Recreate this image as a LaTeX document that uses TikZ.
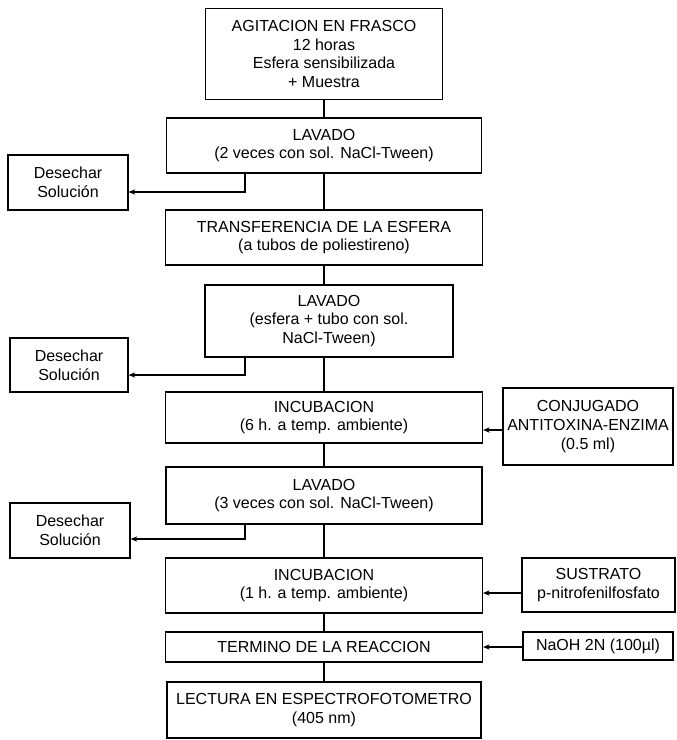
\documentclass[tikz,border=0pt]{standalone}
\usepackage{fontspec}
\setmainfont{Liberation Sans}
\usetikzlibrary{arrows.meta}
\newdimen\px \px=0.75pt
\tikzset{
  paso/.style={draw,align=center,inner sep=0pt},
  flecha/.style={-{Stealth[length=5pt,width=4pt]}}
}
\begin{document}
\begin{tikzpicture}[x=0.75pt,y=-0.75pt,line width=0.9pt,
  every node/.style={font=\fontsize{12}{14}\selectfont}]
\useasboundingbox (0,0) rectangle (677,740);
% etapas
\node[paso,minimum width=237\px,minimum height=91\px] (agit) at (324,54) {AGITACION EN FRASCO\\12 horas\\Esfera sensibilizada\\+ Muestra};
\node[paso,minimum width=315\px,minimum height=55\px] (lav1) at (324,145.5) {LAVADO\\(2 veces con sol. NaCl-Tween)};
\node[paso,minimum width=317\px,minimum height=55\px] (trans) at (324,237.5) {TRANSFERENCIA DE LA ESFERA\\(a tubos de poliestireno)};
\node[paso,minimum width=248\px,minimum height=72\px] (lav2) at (329,321) {LAVADO\\(esfera + tubo con sol.\\NaCl-Tween)};
\node[paso,minimum width=317\px,minimum height=51\px] (inc1) at (324,417.5) {INCUBACION\\(6 h. a temp. ambiente)};
\node[paso,minimum width=316\px,minimum height=57\px] (lav3) at (324,495.5) {LAVADO\\(3 veces con sol. NaCl-Tween)};
\node[paso,minimum width=317\px,minimum height=55\px] (inc2) at (324,585.5) {INCUBACION\\(1 h. a temp. ambiente)};
\node[paso,minimum width=317\px,minimum height=30\px] (term) at (324,647) {TERMINO DE LA REACCION};
\node[paso,minimum width=314\px,minimum height=56\px] (lect) at (324,710) {LECTURA EN ESPECTROFOTOMETRO\\(405 nm)};
% desechos y reactivos
\node[paso,minimum width=120\px,minimum height=55\px] (des1) at (68,182.5) {Desechar\\Solución};
\node[paso,minimum width=118\px,minimum height=54\px] (des2) at (69,365) {Desechar\\Solución};
\node[paso,minimum width=120\px,minimum height=55\px] (des3) at (70,530.5) {Desechar\\Solución};
\node[paso,minimum width=170\px,minimum height=77\px] (conj) at (588,426.5) {CONJUGADO\\ANTITOXINA-ENZIMA\\(0.5 ml)};
\node[paso,minimum width=153\px,minimum height=54\px] (sust) at (598.5,585) {SUSTRATO\\p-nitrofenilfosfato};
\node[paso,minimum width=150\px,minimum height=28\px] (naoh) at (598,646) {NaOH 2N (100µl)};
\coordinate (r1) at (245,192);
\coordinate (r2) at (245,375);
\coordinate (r3) at (245,539);
\coordinate (e1) at (0,430);
\coordinate (e2) at (0,593);
\coordinate (e3) at (0,647);
% conectores
\draw (agit) -- (lav1);
\draw (lav1) -- (trans);
\draw (trans) -- (trans |- lav2.north);
\draw (lav2.south -| trans) -- (inc1);
\draw (inc1) -- (lav3);
\draw (lav3) -- (inc2);
\draw (inc2) -- (term);
\draw (term) -- (lect);
\draw[flecha] (lav1.south -| r1) |- (des1.east |- r1);
\draw[flecha] (lav2.south -| r2) |- (des2.east |- r2);
\draw[flecha] (lav3.south -| r3) |- (des3.east |- r3);
\draw[flecha] (conj.west |- e1) -- (inc1.east |- e1);
\draw[flecha] (sust.west |- e2) -- (inc2.east |- e2);
\draw[flecha] (naoh.west |- e3) -- (term.east |- e3);
\end{tikzpicture}
\end{document}
